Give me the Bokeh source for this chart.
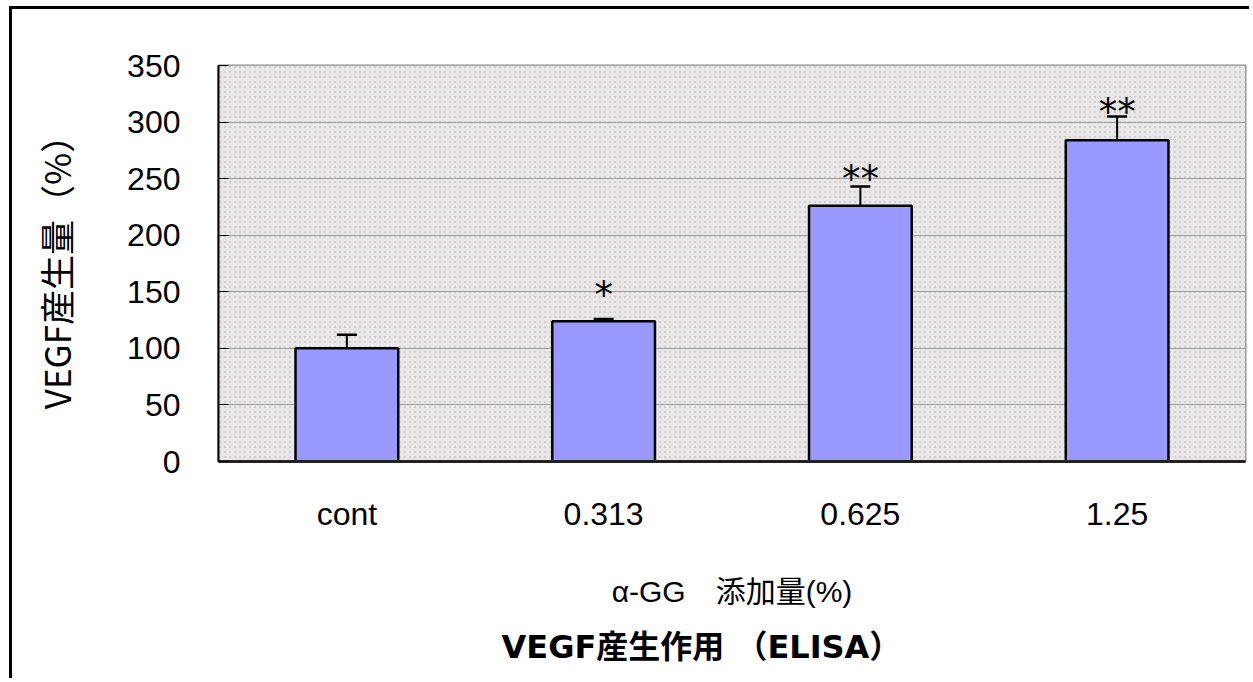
from bokeh.plotting import figure
from bokeh.models import ColumnDataSource, Whisker, TeeHead, BoxAnnotation, Title, FixedTicker, Range1d
from bokeh.core.properties import value
from bokeh.embed import file_html
from bokeh.resources import INLINE

# ---- data ----
categories = ["cont", "0.313", "0.625", "1.25"]
values = [100, 124, 226, 284]
errors = [12, 2, 17, 21]
sig_labels = ["", "*", "**", "**"]
sig_y = [0, 150, 253, 312]
y_ticks = [0, 50, 100, 150, 200, 250, 300, 350]

y_label = "VEGF産生量（%）"
x_label = "α-GG　添加量(%)"
title_text = "VEGF産生作用 （ELISA）"

upper = [v + e for v, e in zip(values, errors)]
src = ColumnDataSource(dict(cat=categories, val=values, up=upper))
sig_src = ColumnDataSource(dict(cat=categories, lab=sig_labels, y=sig_y))

p = figure(x_range=categories, y_range=Range1d(0, 350),
           width=1240, height=672, output_backend="svg", toolbar_location=None,
           min_border_left=206, min_border_top=56, min_border_right=7, min_border_bottom=220)
p.styles = {"margin-left": "9px", "margin-top": "6px",
            "border-left": "3px solid #000000", "border-top": "3px solid #000000"}
p.x_range.range_padding = 0

p.background_fill_color = "#e8e6e6"
p.border_fill_color = "white"
p.outline_line_color = "#8a8a8a"
p.outline_line_width = 2

tex = BoxAnnotation(fill_color="#e9e7e7", fill_alpha=1.0, hatch_pattern=".",
                    hatch_color="#c4c0c0", hatch_alpha=0.6, hatch_scale=5,
                    line_color=None, level="image")
p.add_layout(tex)

p.xgrid.grid_line_color = None
p.ygrid.grid_line_color = "#9a9a9a"
p.ygrid.grid_line_width = 1
p.ygrid.ticker = FixedTicker(ticks=y_ticks)

p.vbar(x="cat", top="val", width=0.4, source=src, fill_color="#9999ff",
       line_color="black", line_width=2.5)

wh = Whisker(base="cat", lower="val", upper="up", source=src,
             line_color="black", line_width=2,
             upper_head=TeeHead(size=20, line_color="black", line_width=2.5),
             lower_head=None)
p.add_layout(wh)

p.text(x="cat", y="y", text="lab", source=sig_src, text_align="center",
       text_baseline="middle", y_offset=4, text_font=value("DejaVu Sans"),
       text_font_size="37px", text_color="black")

# y axis
p.yaxis.ticker = FixedTicker(ticks=y_ticks)
p.yaxis.axis_line_color = "black"
p.yaxis.axis_line_width = 2
p.yaxis.major_tick_in = 10
p.yaxis.major_tick_out = 0
p.yaxis.major_tick_line_color = "black"
p.yaxis.minor_tick_line_color = None
p.yaxis.major_label_standoff = 38
p.yaxis.major_label_text_font = "Liberation Sans"
p.yaxis.major_label_text_font_size = "32px"
p.yaxis.major_label_text_color = "black"
p.yaxis.axis_label = y_label
p.yaxis.axis_label_text_font = "Noto Sans CJK JP"
p.yaxis.axis_label_text_font_size = "35px"
p.yaxis.axis_label_text_font_style = "normal"
p.yaxis.axis_label_text_color = "black"
p.yaxis.axis_label_standoff = 43

# x axis
p.xaxis.axis_line_color = "#222222"
p.xaxis.axis_line_width = 3
p.xaxis.major_tick_line_color = None
p.xaxis.minor_tick_line_color = None
p.xaxis.major_label_standoff = 28
p.xaxis.major_label_text_font = "Liberation Sans"
p.xaxis.major_label_text_font_size = "32px"
p.xaxis.major_label_text_color = "black"
p.xaxis.axis_label = x_label
p.xaxis.axis_label_text_font = "Liberation Sans, Noto Sans CJK JP"
p.xaxis.axis_label_text_font_size = "30px"
p.xaxis.axis_label_text_font_style = "normal"
p.xaxis.axis_label_text_color = "black"
p.xaxis.axis_label_standoff = 40

t = Title(text=title_text, align="left", text_font="DejaVu Sans, Noto Sans CJK JP",
          text_font_size="32px", text_font_style="bold", text_color="black",
          standoff=31, offset=283)
p.add_layout(t, "below")

open("out.html", "w").write(file_html(p, INLINE))
